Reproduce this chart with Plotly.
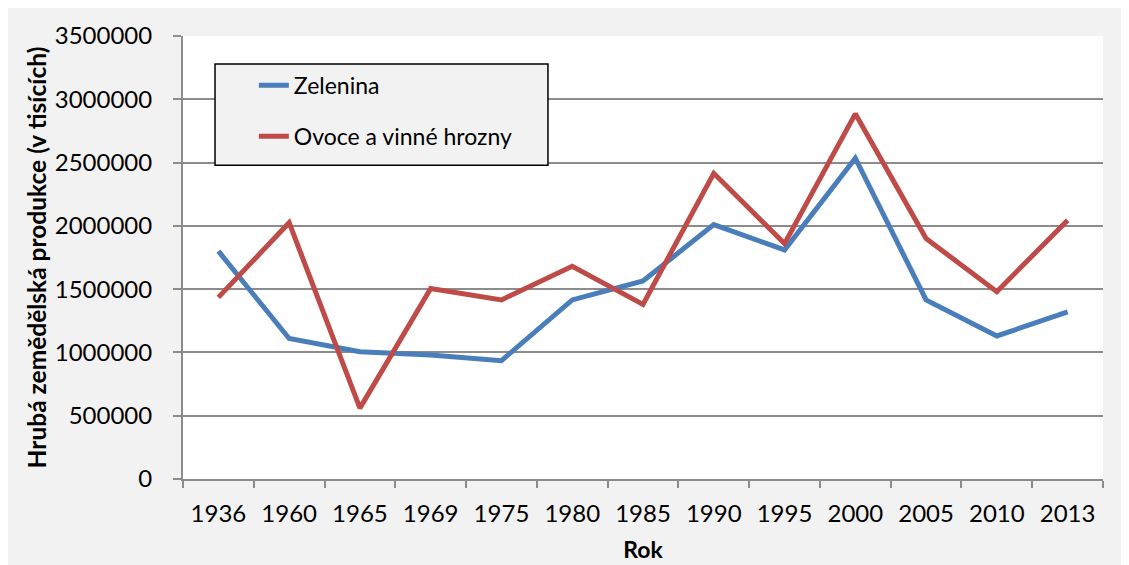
import plotly.graph_objects as go

# Data
roky = ["1936", "1960", "1965", "1969", "1975", "1980", "1985",
        "1990", "1995", "2000", "2005", "2010", "2013"]
zelenina = [1800000, 1110000, 1005000, 980000, 935000, 1415000, 1565000,
            2010000, 1810000, 2535000, 1415000, 1130000, 1320000]
ovoce = [1435000, 2025000, 560000, 1505000, 1415000, 1680000, 1380000,
         2415000, 1860000, 2885000, 1900000, 1480000, 2045000]

FONT = "Lato"
GRID = "#8c8c8c"

fig = go.Figure()
fig.add_trace(go.Scatter(x=roky, y=zelenina, mode="lines", name="Zelenina",
                         legendgroup="a",
                         line=dict(color="#4a7ebb", width=5)))
fig.add_trace(go.Scatter(x=roky, y=ovoce, mode="lines", name="Ovoce a vinné hrozny",
                         legendgroup="b",
                         line=dict(color="#be4b48", width=5)))

fig.update_layout(
    width=1129, height=565,
    margin=dict(l=175, r=34, t=25, b=94),
    paper_bgcolor="#f2f2f2",
    plot_bgcolor="white",
    font=dict(family=FONT, size=24, color="black"),
    showlegend=True,
    legend=dict(x=0.077, y=0.937, xanchor="left", yanchor="top",
                bgcolor="rgba(0,0,0,0)", borderwidth=0,
                tracegroupgap=18, font=dict(size=23)),
)

# Excel-like legend frame
fig.add_shape(type="rect", xref="paper", yref="paper",
              x0=0.0348, x1=0.3967, y0=0.7085, y1=0.937,
              fillcolor="#f2f2f2", line=dict(color="black", width=1.5),
              layer="above")

fig.update_xaxes(type="category", range=[-0.5, 12.5], showgrid=False,
                 showline=True, linecolor=GRID, linewidth=2,
                 ticks="outside", tickson="boundaries", ticklen=7,
                 tickcolor=GRID, tickwidth=2,
                 ticklabelstandoff=12,
                 title=dict(text="<b>Rok</b>", standoff=16,
                            font=dict(size=23)))
fig.update_yaxes(range=[0, 3500000], dtick=500000, tickformat="d",
                 showgrid=True, gridcolor=GRID, gridwidth=2,
                 showline=True, linecolor=GRID, linewidth=2,
                 ticks="outside", ticklen=8, tickcolor=GRID, tickwidth=2,
                 ticklabelstandoff=16, zeroline=False,
                 title=dict(text="<b>Hrubá zemědělská produkce (v tisících)</b>",
                            standoff=1, font=dict(size=24.5)))

fig.write_html("out.html")
